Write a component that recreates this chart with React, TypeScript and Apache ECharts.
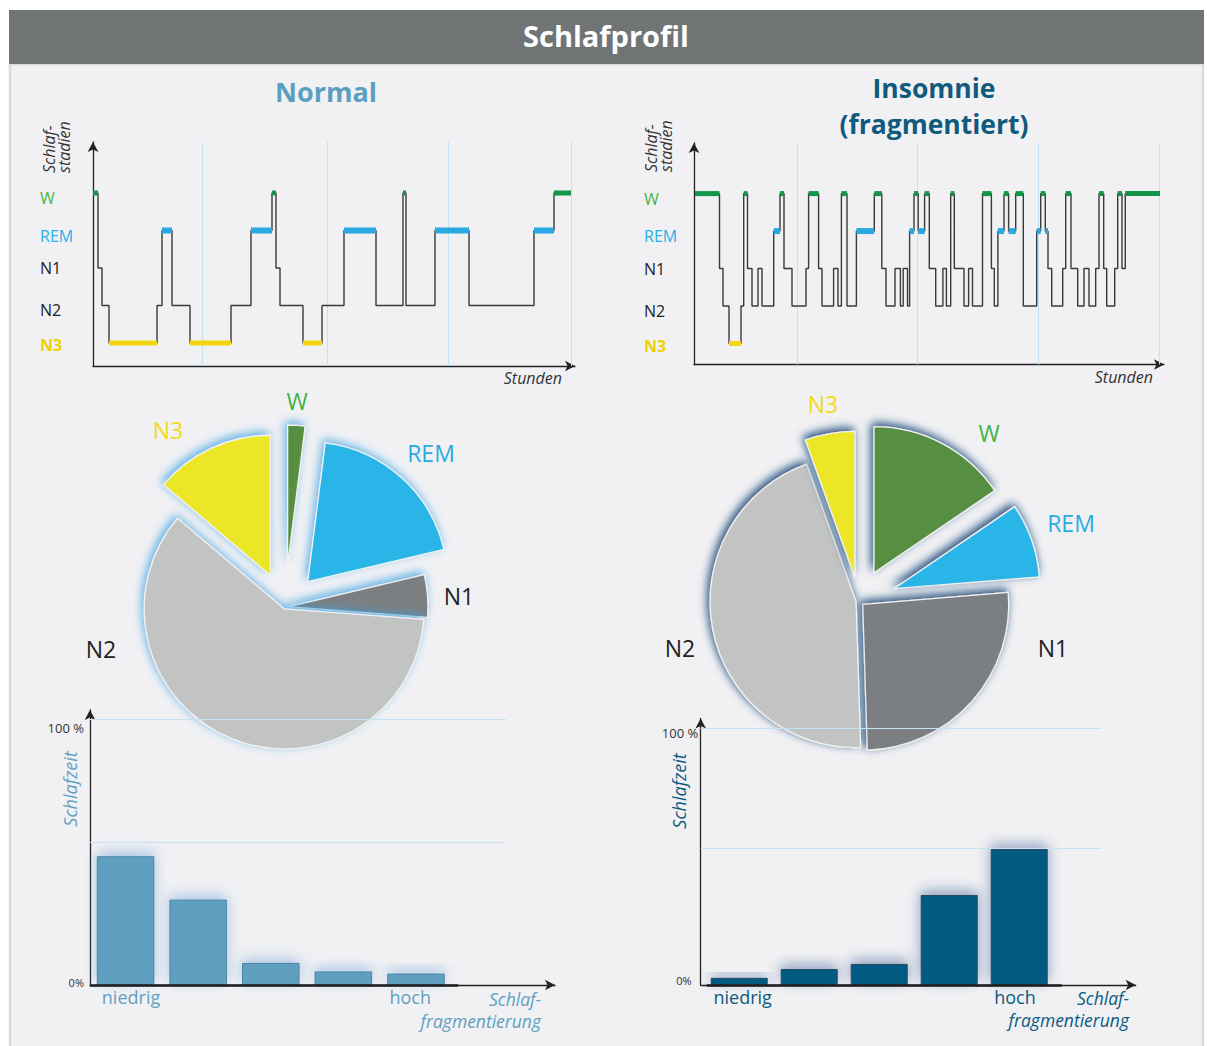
import React, { useEffect, useRef } from 'react';
import * as echarts from 'echarts';

// ---------- DATA ----------
const stageNames = ['N3', 'N2', 'N1', 'REM', 'W'];
const stageLevel: Record<string, number> = { N3: 0, N2: 1, N1: 2, REM: 3, W: 4 };

// Normal hypnogram: boundaries (minutes from start) and the stage held between them
const normalTimes = [0, 5, 9, 16, 64, 69, 79, 97, 138, 158, 179, 183, 187, 210, 229, 251, 283, 310, 313, 342, 376, 441, 461, 478];
const normalStages = ['W', 'N1', 'N2', 'N3', 'N2', 'REM', 'N2', 'N3', 'N2', 'REM', 'W', 'N1', 'N2', 'N3', 'N2', 'REM', 'N2', 'W', 'N2', 'REM', 'N2', 'REM', 'W'];
const normalHourMarks = [109, 234.5, 355, 478.7];

// Insomnia hypnogram
const insomTimes = [1, 25.5, 29, 35, 47, 49.7, 53.5, 58, 64, 68, 79.7, 86, 90, 98, 112, 114.6, 124.6, 128, 139.6, 144,
  147.4, 153, 162.4, 180.3, 187.8, 192, 201, 206.4, 209.2, 213.5, 215.6, 220, 224.2, 230.6, 235.3, 241.7, 248.9, 252.4,
  256.7, 260.3, 270, 274.6, 278.5, 288.5, 297.4, 300.3, 303.9, 310, 314.6, 321.7, 329.3, 342.7, 346.7, 351.3, 354, 357.7,
  368.7, 371.7, 377, 383.7, 390, 395, 401.7, 405, 409.7, 412.7, 420.7, 423.7, 428, 431.3, 466];
const insomStages = [
  'W', 'N1', 'N2', 'N3', 'N2', 'W', 'N1', 'N2', 'N1', 'N2', 'REM', 'W', 'N1', 'N2', 'N1', 'W', 'N1', 'N2', 'N1', 'N2',
  'W', 'N2', 'REM', 'W', 'N1', 'N2', 'N1', 'N2', 'N1', 'N2', 'REM', 'W', 'REM', 'W', 'N1', 'N2', 'N1', 'N2', 'W', 'N1',
  'N2', 'N1', 'N2', 'W', 'N1', 'N2', 'REM', 'W', 'REM', 'W', 'N2', 'REM', 'W', 'REM', 'N1', 'N2', 'N1', 'W', 'N1', 'N2',
  'N1', 'N2', 'N1', 'W', 'N1', 'N2', 'N1', 'W', 'N1', 'W'];
const insomHourMarks = [103, 223.5, 344, 465.5];

// Pie shares (% of night), clockwise from top
const pieStages = ['W', 'REM', 'N1', 'N2', 'N3'];
const normalPie = [2, 19.3, 4.9, 60, 13.8];
const insomPie = [15.5, 8.2, 25.8, 45, 5.5];

// Bars: share of sleep time by fragmentation level
const fragLevels = ['niedrig', '', '', '', 'hoch'];
const normalBars = [48.4, 32.1, 8.3, 5.1, 4.3];
const insomBars = [2.8, 6.2, 8.2, 35, 52.9];

// ---------- STYLE ----------
const FONT = 'Open Sans';
const segColors: Record<number, string> = { 4: '#139647', 3: '#2aa9e0', 0: '#f3d70e' };
const pieColors = ['#578e42', '#2cb5e8', '#7b7f81', '#c2c3c3', '#ece725'];
const normalBlue = '#5fa0c0';
const insomBlue = '#0b5b80';

function buildStep(times: number[], stages: string[]) {
  const pts = stages.map((s, i) => [times[i], stageLevel[s]]);
  pts.push([times[times.length - 1], stageLevel[stages[stages.length - 1]]]);
  return pts;
}
function buildColored(times: number[], stages: string[]) {
  const out: number[][] = [];
  stages.forEach((s, i) => {
    const v = stageLevel[s];
    if (segColors[v]) out.push([times[i], times[i + 1], v]);
  });
  return out;
}

const axisLineStyle = { color: '#222', width: 1.3 };

function hypnoAxes(gi: number, xmax: number, ymin: number, ymax: number, margin: number) {
  const rich: any = {};
  const cols = ['#f0d000', '#222', '#222', '#2ab0e6', '#45b649'];
  cols.forEach((c, i) => {
    rich['s' + i] = { color: c, fontSize: 16, fontFamily: FONT, fontWeight: i === 0 ? 'bold' : 'normal' };
  });
  return {
    x: {
      type: 'value', gridIndex: gi, min: 0, max: xmax,
      axisLine: { show: true, onZero: false, symbol: ['none', 'arrow'], symbolSize: [8, 10], lineStyle: axisLineStyle },
      axisTick: { show: false }, axisLabel: { show: false }, splitLine: { show: false },
    },
    y: {
      type: 'value', gridIndex: gi, min: ymin, max: ymax,
      axisLine: { show: true, onZero: false, symbol: ['none', 'arrow'], symbolSize: [8, 10], lineStyle: axisLineStyle },
      axisTick: { show: false }, splitLine: { show: false },
      axisLabel: {
        show: true, customValues: [-0.06, 0.87, 1.99, 2.86, 3.86], align: 'left', margin,
        formatter: (v: number) => { const k = Math.abs(Math.round(v)); return '{s' + k + '|' + stageNames[k] + '}'; },
        rich,
      },
    },
  };
}

function hypnoSeries(idx: number, times: number[], stages: string[], marks: number[]) {
  return [
    {
      type: 'line', xAxisIndex: idx, yAxisIndex: idx, data: buildStep(times, stages), step: 'end',
      showSymbol: false, silent: true, z: 3, lineStyle: { color: '#3a3a3a', width: 1.4 },
      markLine: {
        silent: true, symbol: ['none', 'none'], label: { show: false }, z: 1,
        lineStyle: { color: '#c3e2f3', width: 1, type: 'solid' },
        data: marks.map((t) => ({ xAxis: t })),
      },
    },
    {
      type: 'custom', xAxisIndex: idx, yAxisIndex: idx, silent: true, z: 4,
      encode: { x: [0, 1], y: 2 },
      data: buildColored(times, stages),
      renderItem: (params: any, api: any) => {
        const v = api.value(2);
        const p1 = api.coord([api.value(0), v]);
        const p2 = api.coord([api.value(1), v]);
        const h = v === 3 ? 6 : 5;
        return {
          type: 'rect',
          shape: { x: p1[0], y: p1[1] - h / 2, width: Math.max(p2[0] - p1[0], 1.5), height: h },
          style: { fill: segColors[v] },
        };
      },
    },
  ];
}

function pieSeries(values: number[], center: number[], radius: number, offsets: number[], shadowColor: string) {
  return values.map((_, k) => ({
    type: 'pie', center, radius, startAngle: 90, clockwise: true,
    selectedMode: 'single', selectedOffset: offsets[k],
    label: { show: false }, labelLine: { show: false }, emphasis: { disabled: true },
    data: values.map((v, j) => (j === k
      ? {
        name: pieStages[j], value: v, selected: true,
        itemStyle: {
          color: pieColors[j], borderColor: '#f2f2f2', borderWidth: 1.3,
          shadowBlur: 10, shadowColor, shadowOffsetX: -2, shadowOffsetY: -3,
        },
      }
      : { name: pieStages[j], value: v, itemStyle: { color: 'rgba(0,0,0,0)', borderWidth: 0 } })),
  }));
}

function barAxes(gi: number, xmax: number, ymax: number, labelPos: number[], xColor: string,
  yLabelVals: number[], yMargin: number, zeroPad: number) {
  return {
    x: {
      type: 'value', gridIndex: gi, min: 0, max: xmax,
      axisLine: { show: true, onZero: false, symbol: ['none', 'arrow'], symbolSize: [8, 10], lineStyle: axisLineStyle },
      axisTick: { show: false }, splitLine: { show: false },
      axisLabel: {
        show: true, customValues: labelPos, margin: 3, color: xColor, fontSize: 18, lineHeight: 18, fontFamily: FONT,
        formatter: (v: number) => fragLevels[Math.round(v - 0.5)],
      },
    },
    y: {
      type: 'value', gridIndex: gi, min: 0, max: ymax,
      axisLine: { show: true, onZero: false, symbol: ['none', 'arrow'], symbolSize: [8, 10], lineStyle: axisLineStyle },
      axisTick: { show: false }, splitLine: { show: false },
      axisLabel: {
        show: true, customValues: yLabelVals, margin: yMargin,
        formatter: (v: number) => (v > 50 ? '{a|100 %}' : '{b|0%}'),
        rich: {
          a: { fontSize: 13, color: '#333', fontFamily: FONT },
          b: { fontSize: 11, color: '#333', fontFamily: FONT, padding: [0, zeroPad, 0, 0] },
        },
      },
    },
  };
}

function barSeries(idx: number, values: number[], start: number, width: number, color: string, border: string,
  shadow: string, baseEnd: number, baseStart: number, guideEnd: number, midGuide: number) {
  const guide = { color: '#c6e3f4', width: 1 };
  return {
    type: 'bar', xAxisIndex: idx, yAxisIndex: idx, silent: true,
    data: values.map((v, i) => [i + start, v]), barWidth: width,
    itemStyle: { color, borderColor: border, borderWidth: 1, shadowBlur: 14, shadowColor: shadow, shadowOffsetY: -4 },
    markLine: {
      silent: true, symbol: ['none', 'none'], label: { show: false },
      data: [
        [{ coord: [baseStart, 0], lineStyle: { color: '#1e1e1e', width: 2.6, type: 'solid' } }, { coord: [baseEnd, 0] }],
        [{ coord: [0, 100], lineStyle: { ...guide, type: 'solid' } }, { coord: [guideEnd, 100] }],
        [{ coord: [0, midGuide], lineStyle: { ...guide, type: 'solid' } }, { coord: [guideEnd, midGuide] }],
      ],
    },
  };
}

function txt(x: number, y: number, text: string, style: any, rotation = 0) {
  return {
    type: 'text', x, y, rotation, silent: true,
    style: { text, fontFamily: FONT, align: 'center', verticalAlign: 'middle', ...style },
  };
}

function buildOption() {
  const h0 = hypnoAxes(0, 482, -0.613, 5.36, 53);
  const h1 = hypnoAxes(1, 470, -0.56, 5.35, 50);
  const b0 = barAxes(2, 6.405, 103.4, [0.565, 4.41], normalBlue, [0.86, 96.6], 6, 0);
  const b1 = barAxes(3, 6.214, 103.6, [0.6, 4.49], insomBlue, [1.94, 98.1], 2.5, 6.5);

  const itl = { fontSize: 17.5, lineHeight: 17, fontStyle: 'italic', align: 'right' };
  const graphic: any[] = [
    { type: 'rect', silent: true, shape: { x: 0, y: 0, width: 1207, height: 10 }, style: { fill: '#ffffff' } },
    { type: 'rect', silent: true, shape: { x: 0, y: 0, width: 9, height: 1046 }, style: { fill: '#ffffff' } },
    { type: 'rect', silent: true, shape: { x: 1204, y: 0, width: 3, height: 1046 }, style: { fill: '#ffffff' } },
    { type: 'rect', silent: true, shape: { x: 10, y: 64, width: 1193, height: 990 }, style: { fill: 'none', stroke: '#d9d9dc', lineWidth: 2.5 } },
    { type: 'rect', silent: true, shape: { x: 9, y: 10, width: 1195, height: 54 }, style: { fill: '#717475' } },
    txt(606, 35, 'Schlafprofil', { fill: '#ffffff', fontSize: 29, fontWeight: 'bold' }),
    txt(326, 91, 'Normal', { fill: '#5b9fc0', fontSize: 27, fontWeight: 'bold' }),
    txt(934, 88, 'Insomnie', { fill: '#0f5a7d', fontSize: 26.5, fontWeight: 'bold' }),
    txt(934, 124, '(fragmentiert)', { fill: '#0f5a7d', fontSize: 26.5, fontWeight: 'bold' }),
    // hypnogram axis names
    txt(41, 173, 'Schlaf-\nstadien', { fill: '#333', fontSize: 16, fontStyle: 'italic', align: 'left', verticalAlign: 'top', lineHeight: 15 }, Math.PI / 2),
    txt(643, 172, 'Schlaf-\nstadien', { fill: '#333', fontSize: 16, fontStyle: 'italic', align: 'left', verticalAlign: 'top', lineHeight: 15 }, Math.PI / 2),
    txt(562, 378, 'Stunden', { fill: '#333', fontSize: 16, fontStyle: 'italic', align: 'right' }),
    txt(1153, 377, 'Stunden', { fill: '#333', fontSize: 16, fontStyle: 'italic', align: 'right' }),
    // pie labels
    txt(297, 401, 'W', { fill: '#3db34a', fontSize: 23 }),
    txt(168, 430, 'N3', { fill: '#f0da1a', fontSize: 23 }),
    txt(431, 453, 'REM', { fill: '#29abe2', fontSize: 23 }),
    txt(459, 596, 'N1', { fill: '#222', fontSize: 23 }),
    txt(101, 649, 'N2', { fill: '#222', fontSize: 23 }),
    txt(823, 404, 'N3', { fill: '#f0da1a', fontSize: 23 }),
    txt(989, 433, 'W', { fill: '#3db34a', fontSize: 23 }),
    txt(1071, 523, 'REM', { fill: '#29abe2', fontSize: 23 }),
    txt(1053, 648, 'N1', { fill: '#222', fontSize: 23 }),
    txt(680, 648, 'N2', { fill: '#222', fontSize: 23 }),
    // bar chart axis names
    txt(70, 789, 'Schlafzeit', { fill: normalBlue, fontSize: 18, fontStyle: 'italic' }, Math.PI / 2),
    txt(679, 791, 'Schlafzeit', { fill: insomBlue, fontSize: 18, fontStyle: 'italic' }, Math.PI / 2),
    txt(541, 999, 'Schlaf-', { fill: normalBlue, ...itl }),
    txt(541, 1021, 'fragmentierung', { fill: normalBlue, ...itl }),
    txt(1129, 998, 'Schlaf-', { fill: insomBlue, ...itl }),
    txt(1129, 1020, 'fragmentierung', { fill: insomBlue, ...itl }),
  ];

  return {
    animation: false,
    backgroundColor: '#f1f1f4',
    textStyle: { fontFamily: FONT },
    grid: [
      { left: 93, top: 142, width: 482, height: 224 },
      { left: 694, top: 143, width: 470, height: 221.5 },
      { left: 90, top: 710, width: 465, height: 275 },
      { left: 700.7, top: 718.5, width: 435, height: 266.5 },
    ],
    xAxis: [h0.x, h1.x, b0.x, b1.x],
    yAxis: [h0.y, h1.y, b0.y, b1.y],
    series: [
      ...hypnoSeries(0, normalTimes, normalStages, normalHourMarks),
      ...hypnoSeries(1, insomTimes, insomStages, insomHourMarks),
      barSeries(2, normalBars, 0.49, 57.5, '#5fa0c0', '#4a84a0', 'rgba(80,140,205,0.45)', 5.07, 0, 5.73, 53.6),
      barSeries(3, insomBars, 0.55, 57, '#005a82', '#2c475c', 'rgba(30,50,120,0.45)', 5.16, 0.086, 5.72, 53.1),
      ...pieSeries(normalPie, [285, 607], 140, [42, 34, 3, 2, 35], 'rgba(55,160,225,0.8)'),
      ...pieSeries(insomPie, [859, 601], 146, [32, 37, 5, 3, 24], 'rgba(8,62,112,0.95)'),
    ],
    graphic,
  };
}

export default function App() {
  const ref = useRef<HTMLDivElement>(null);
  useEffect(() => {
    const chart = echarts.init(ref.current!, null, { renderer: 'svg' });
    chart.setOption(buildOption() as any);
    return () => chart.dispose();
  }, []);
  return <div ref={ref} style={{ position: 'fixed', left: 0, top: 0, width: 1207, height: 1046 }} />;
}
